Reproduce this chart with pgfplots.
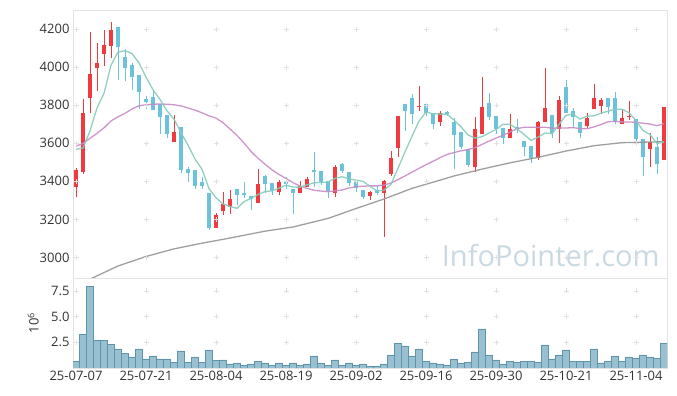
\documentclass[border=0pt]{standalone}
\usepackage{fontspec}
\setmainfont{Open Sans}
\usepackage{pgfplots}
\usepackage{pgfplotstable}
\pgfplotsset{compat=1.18}
\definecolor{cred}{HTML}{EF3A3F}
\definecolor{cblue}{HTML}{6CC3D9}
\definecolor{ma5}{HTML}{85CABC}
\definecolor{ma20}{HTML}{C98AC6}
\definecolor{ma60}{HTML}{959595}
\definecolor{volfill}{HTML}{99C0D0}
\definecolor{voledge}{HTML}{5E94AC}
\definecolor{framec}{HTML}{E3E3E3}
\definecolor{gridc}{HTML}{E0E0E0}
\definecolor{wm}{HTML}{C9D9E2}
\definecolor{labc}{HTML}{333333}

\pgfplotstableread{
i o h l c
0 3371 3468 3319 3459
1 3447 3831 3440 3757
2 3836 4183 3757 3962
3 3993 4125 3874 4020
4 4067 4195 4007 4116
5 4112 4238 4046 4195
14 3608 3748 3608 3659
20 3156 3235 3156 3223
21 3245 3345 3223 3280
22 3266 3354 3226 3307
26 3287 3464 3287 3385
29 3345 3406 3328 3394
32 3340 3403 3340 3375
33 3371 3420 3371 3412
37 3340 3485 3319 3473
42 3324 3349 3301 3342
44 3337 3406 3109 3403
45 3436 3560 3430 3520
46 3576 3743 3526 3743
49 3789 3900 3771 3797
52 3713 3769 3692 3757
57 3476 3739 3450 3674
58 3648 3946 3648 3789
62 3626 3752 3626 3674
66 3520 3715 3512 3710
67 3710 3993 3710 3786
69 3673 3848 3599 3827
73 3690 3760 3678 3731
74 3778 3911 3778 3836
75 3797 3839 3752 3827
78 3701 3778 3701 3731
79 3739 3822 3722 3743
82 3568 3652 3476 3608
84 3512 3792 3512 3789
}\uptab

\pgfplotstableread{
i o h l c
6 4209 4209 3932 4104
7 4051 4093 3928 3993
8 4011 4020 3879 3949
9 3958 3958 3780 3871
10 3832 3848 3778 3818
11 3844 3879 3774 3774
12 3804 3804 3648 3739
13 3748 3748 3626 3647
15 3685 3685 3445 3459
16 3464 3476 3398 3445
17 3461 3461 3358 3375
18 3398 3420 3358 3375
19 3337 3337 3144 3153
23 3359 3359 3275 3328
24 3337 3398 3310 3328
25 3324 3324 3249 3305
27 3428 3433 3337 3384
28 3389 3389 3328 3350
30 3398 3424 3358 3384
31 3358 3358 3228 3340
34 3459 3555 3371 3449
35 3454 3454 3380 3394
36 3403 3403 3310 3350
38 3491 3494 3445 3455
39 3447 3447 3375 3389
40 3401 3401 3345 3363
41 3354 3354 3307 3319
43 3354 3375 3328 3337
47 3806 3806 3666 3769
48 3836 3858 3701 3752
50 3806 3806 3744 3760
51 3760 3760 3673 3699
53 3762 3769 3744 3752
54 3709 3731 3463 3643
55 3660 3660 3568 3581
56 3569 3569 3476 3485
59 3810 3862 3722 3739
60 3743 3743 3647 3673
61 3678 3678 3596 3626
63 3683 3727 3652 3674
64 3611 3611 3533 3581
65 3585 3585 3494 3520
68 3748 3748 3626 3652
70 3894 3932 3760 3760
71 3769 3783 3681 3739
72 3710 3710 3629 3655
76 3836 3836 3752 3789
77 3836 3871 3699 3710
80 3727 3727 3611 3620
81 3622 3622 3429 3529
83 3578 3631 3438 3489
}\downtab

\pgfplotstableread{
i v
0 0.62
1 3.3
2 7.9
3 2.7
4 2.7
5 2.3
6 1.85
7 1.45
8 1.07
9 1.85
10 0.88
11 1.17
12 0.88
13 0.88
14 0.58
15 1.66
16 0.58
17 1.07
18 0.58
19 1.75
20 0.71
21 0.78
22 0.39
23 0.49
24 0.29
25 0.39
26 0.68
27 0.49
28 0.29
29 0.49
30 0.29
31 0.49
32 0.29
33 0.39
34 1.17
35 0.49
36 0.29
37 0.78
38 0.29
39 0.49
40 0.29
41 0.39
42 0.19
43 0.19
44 0.39
45 1.27
46 2.43
47 2.14
48 1.17
49 1.85
50 0.68
51 0.49
52 0.39
53 0.29
54 0.88
55 0.49
56 0.58
57 1.56
58 3.8
59 1.27
60 0.78
61 0.39
62 0.68
63 0.58
64 0.68
65 0.68
66 0.58
67 2.24
68 0.88
69 1.27
70 1.75
71 0.68
72 0.68
73 0.68
74 1.85
75 0.49
76 0.68
77 1.17
78 0.68
79 1.07
80 0.97
81 1.27
82 1.07
83 0.97
84 2.43
}\voltab

\begin{document}
\begin{tikzpicture}[font=\fontsize{13}{15}\selectfont]
\path[use as bounding box] (0,0) rectangle (677pt,396pt);
% ---------------- price panel ----------------
\begin{axis}[
  at={(73pt,118pt)}, anchor=south west, scale only axis,
  width=594pt, height=268pt,
  xmin=-0.43, xmax=84.43, ymin=2892, ymax=4300,
  axis line style={framec, line width=0.8pt},
  xtick=\empty,
  ytick={3000,3200,3400,3600,3800,4000,4200},
  major tick length=0pt,
  yticklabel style={text=labc},
  /pgf/number format/1000 sep={},
  /pgf/number format/assume math mode=true,
  clip=true,
]
\addplot[only marks, mark=+, mark size=2.5pt, gridc, mark options={line width=0.7pt}, forget plot] coordinates {
(0,3000)(10,3000)(20,3000)(30,3000)(40,3000)(50,3000)(60,3000)(70,3000)(80,3000)
(0,3200)(10,3200)(20,3200)(30,3200)(40,3200)(50,3200)(60,3200)(70,3200)(80,3200)
(0,3400)(10,3400)(20,3400)(30,3400)(40,3400)(50,3400)(60,3400)(70,3400)(80,3400)
(0,3600)(10,3600)(20,3600)(30,3600)(40,3600)(50,3600)(60,3600)(70,3600)(80,3600)
(0,3800)(10,3800)(20,3800)(30,3800)(40,3800)(50,3800)(60,3800)(70,3800)(80,3800)
(0,4000)(10,4000)(20,4000)(30,4000)(40,4000)(50,4000)(60,4000)(70,4000)(80,4000)
(0,4200)(10,4200)(20,4200)(30,4200)(40,4200)(50,4200)(60,4200)(70,4200)(80,4200)
};
\node[anchor=base east, text=wm, font=\fontsize{29}{32}\selectfont, inner sep=0pt] at (axis cs:83.4,2954) {InfoPointer.com};
% wicks
\addplot[draw=none, forget plot, error bars/.cd, y dir=both, y explicit, error mark=none,
  error bar style={draw=cred, line width=1pt}]
  table[x=i, y=o, y error plus expr={\thisrow{h}-\thisrow{o}}, y error minus expr={\thisrow{o}-\thisrow{l}}] {\uptab};
\addplot[draw=none, forget plot, error bars/.cd, y dir=both, y explicit, error mark=none,
  error bar style={draw=cblue, line width=1pt}]
  table[x=i, y=c, y error plus expr={\thisrow{h}-\thisrow{c}}, y error minus expr={\thisrow{c}-\thisrow{l}}] {\downtab};
% bodies
\addplot[draw=none, forget plot, error bars/.cd, y dir=plus, y explicit, error mark=none,
  error bar style={draw=cred, line width=4.4pt}]
  table[x=i, y=o, y error plus expr={\thisrow{c}-\thisrow{o}}] {\uptab};
\addplot[draw=none, forget plot, error bars/.cd, y dir=plus, y explicit, error mark=none,
  error bar style={draw=cblue, line width=4.4pt}]
  table[x=i, y=c, y error plus expr={\thisrow{o}-\thisrow{c}}] {\downtab};
% MA60
\addplot[ma60, line width=1.3pt, opacity=0.9] coordinates {
(0,2850)(2,2886)(6,2955)(10,3005)(14,3045)(18,3075)(21,3095)(27,3138)(31,3160)(36,3205)(40,3257)(44,3307)(48,3363)(52,3406)(54,3428)(58,3464)(62,3497)(66,3526)(70,3559)(74,3587)(78,3603)(84,3608)
};
% MA20
\addplot[ma20, line width=1.3pt, opacity=0.9] coordinates {
(0,3585)(1,3599)(2,3626)(3,3652)(4,3681)(5,3717)(6,3739)(7,3757)(8,3780)(9,3797)(10,3802)(11,3805)(12,3806)(13,3805)(14,3802)(15,3796)(16,3785)(17,3774)(18,3760)(19,3744)(20,3732)(21,3708)(22,3675)(23,3641)(24,3601)(25,3557)(26,3521)(27,3490)(28,3460)(29,3436)(30,3415)(31,3393)(32,3375)(33,3363)(34,3353)(35,3349)(36,3345)(37,3350)(38,3354)(39,3365)(40,3372)(41,3374)(42,3376)(43,3376)(44,3380)(45,3391)(46,3409)(47,3428)(48,3448)(49,3468)(50,3487)(51,3505)(52,3524)(53,3541)(54,3551)(55,3560)(56,3567)(57,3577)(58,3594)(59,3611)(60,3627)(61,3642)(62,3659)(63,3676)(64,3684)(65,3684)(66,3683)(67,3684)(68,3679)(69,3680)(70,3680)(71,3682)(72,3677)(73,3676)(74,3686)(75,3698)(76,3713)(77,3715)(78,3712)(79,3712)(80,3710)(81,3705)(82,3701)(83,3692)(84,3703)
};
% MA5
\addplot[ma5, line width=1.3pt, opacity=0.9] coordinates {
(0,3568)(1,3575)(2,3665)(3,3785)(4,3863)(5,4010)(6,4079)(7,4086)(8,4071)(9,4022)(10,3947)(11,3881)(12,3830)(13,3770)(14,3727)(15,3656)(16,3590)(17,3517)(18,3463)(19,3361)(20,3314)(21,3281)(22,3268)(23,3258)(24,3293)(25,3310)(26,3331)(27,3346)(28,3350)(29,3364)(30,3379)(31,3370)(32,3369)(33,3381)(34,3392)(35,3394)(36,3396)(37,3416)(38,3424)(39,3412)(40,3406)(41,3400)(42,3374)(43,3350)(44,3353)(45,3384)(46,3469)(47,3554)(48,3637)(49,3716)(50,3764)(51,3755)(52,3753)(53,3753)(54,3722)(55,3686)(56,3644)(57,3627)(58,3634)(59,3654)(60,3672)(61,3700)(62,3700)(63,3677)(64,3646)(65,3615)(66,3632)(67,3654)(68,3650)(69,3699)(70,3747)(71,3753)(72,3727)(73,3742)(74,3744)(75,3758)(76,3768)(77,3779)(78,3779)(79,3760)(80,3719)(81,3667)(82,3646)(83,3598)(84,3607)
};
\end{axis}
% ---------------- volume panel ----------------
\begin{axis}[
  at={(73pt,28pt)}, anchor=south west, scale only axis,
  width=594pt, height=90pt,
  xmin=-0.43, xmax=84.43, ymin=0, ymax=8.75,
  axis line style={framec, line width=0.8pt},
  major tick length=0pt,
  xtick={0,10,20,30,40,50,60,70,80},
  xticklabels={25-07-07,25-07-21,25-08-04,25-08-19,25-09-02,25-09-16,25-09-30,25-10-21,25-11-04},
  ytick={2.5,5,7.5}, yticklabels={2.5,5.0,7.5},
  ticklabel style={text=labc},
  ylabel={10\textsuperscript{6}},
  ylabel style={at={(axis description cs:-0.067,0.5)}, anchor=center, text=labc},
]
\addplot[only marks, mark=+, mark size=2.5pt, gridc, mark options={line width=0.7pt}, forget plot] coordinates {
(0,2.5)(10,2.5)(20,2.5)(30,2.5)(40,2.5)(50,2.5)(60,2.5)(70,2.5)(80,2.5)
(0,5)(10,5)(20,5)(30,5)(40,5)(50,5)(60,5)(70,5)(80,5)
(0,7.5)(10,7.5)(20,7.5)(30,7.5)(40,7.5)(50,7.5)(60,7.5)(70,7.5)(80,7.5)
};
\addplot[ybar, bar width=1, bar shift=0pt, fill=volfill, draw=voledge, line width=0.7pt] table[x=i, y=v] {\voltab};
\end{axis}
\end{tikzpicture}
\end{document}
